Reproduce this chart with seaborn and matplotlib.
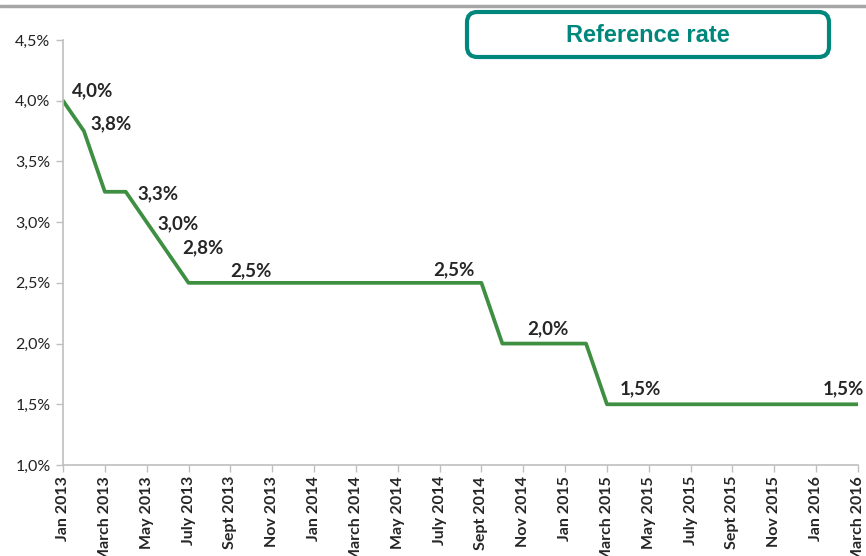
import matplotlib
matplotlib.use("Agg")
import matplotlib.pyplot as plt
import seaborn as sns
import pandas as pd
from matplotlib.patches import FancyBboxPatch
from matplotlib.lines import Line2D

# Monthly reference rate, Jan 2013 .. March 2016
rate = [4.0, 3.75, 3.25, 3.25, 3.0, 2.75,
        2.5, 2.5, 2.5, 2.5, 2.5, 2.5, 2.5, 2.5, 2.5, 2.5, 2.5, 2.5, 2.5, 2.5, 2.5,
        2.0, 2.0, 2.0, 2.0, 2.0,
        1.5, 1.5, 1.5, 1.5, 1.5, 1.5, 1.5, 1.5, 1.5, 1.5, 1.5, 1.5, 1.5]
tick_labels = ["Jan 2013", "March 2013", "May 2013", "July 2013", "Sept 2013",
               "Nov 2013", "Jan 2014", "March 2014", "May 2014", "July 2014",
               "Sept 2014", "Nov 2014", "Jan 2015", "March 2015", "May 2015",
               "July 2015", "Sept 2015", "Nov 2015", "Jan 2016", "March 2016"]
labelled_months = [0, 1, 3, 4, 5, 7, 17, 22, 26, 35]
title = "Reference rate"

df = pd.DataFrame({"month": range(len(rate)), "rate": rate})

sns.set_style("white")
plt.rcParams['font.family'] = ['Lato', 'DejaVu Sans']

fig = plt.figure(figsize=(8.66, 5.56), dpi=100)
ax = fig.add_axes([63 / 866, 1 - 465 / 556, (858 - 63) / 866, (465 - 40) / 556])

green = "#3e8f42"
sns.lineplot(data=df, x="month", y="rate", ax=ax, color=green, linewidth=2.7)

ax.set_xlim(0, len(rate) - 1)
ax.set_ylim(1.0, 4.5)
ax.set_xticks(range(0, len(rate), 2))
ax.set_xticklabels(tick_labels, rotation=90, fontweight="bold", fontsize=11.5)
yt = [1.0, 1.5, 2.0, 2.5, 3.0, 3.5, 4.0, 4.5]
ax.set_yticks(yt)
ax.set_yticklabels([f"{v:.1f}%".replace(".", ",") for v in yt], fontsize=11.5,
                   color="#222222")
ax.set_xlabel("")
ax.set_ylabel("")

for s in ["top", "right"]:
    ax.spines[s].set_visible(False)
for s in ["left", "bottom"]:
    ax.spines[s].set_color("#bfbfbf")
    ax.spines[s].set_linewidth(1.2)
ax.tick_params(axis="both", which="both", length=5, width=1,
               direction="out", left=True, bottom=True)
ax.tick_params(axis="both", color="#bfbfbf")
ax.tick_params(axis="x", pad=3)
ax.tick_params(axis="y", pad=4)

# data labels (pixel offsets from the point)
offsets = {0: (30, 10), 1: (27, 7), 3: (32, -2), 4: (31, -2), 5: (35, 5),
           7: (41, 12), 17: (35, 13), 22: (25, 15), 26: (33, 16), 35: (48, 16)}
for i in labelled_months:
    dx, dy = offsets[i]
    ax.annotate(f"{round(rate[i] + 1e-9, 1):.1f}%".replace(".", ","),
                xy=(i, rate[i]), xytext=(dx, dy), textcoords="offset pixels",
                ha="center", va="center", fontsize=13.5, fontweight="bold",
                annotation_clip=False)

# top grey rule
fig.add_artist(Line2D([0, 1], [1 - 5.5 / 556, 1 - 5.5 / 556],
                      transform=fig.transFigure, color="#a6a6a6", linewidth=2.5))

# title box
teal = "#00877c"
box = FancyBboxPatch((467 / 866, 1 - 57 / 556), (829 - 467) / 866, (57 - 12) / 556,
                     boxstyle="round,pad=0,rounding_size=0.012",
                     transform=fig.transFigure, facecolor="white",
                     edgecolor=teal, linewidth=3, mutation_aspect=866 / 556)
fig.add_artist(box)
fig.text(648 / 866, 1 - 36 / 556, title, ha="center", va="center",
         color=teal, fontsize=17, fontweight="bold",
         family=['Liberation Sans Narrow', 'Liberation Sans'])

fig.savefig("out.png", dpi=100)
